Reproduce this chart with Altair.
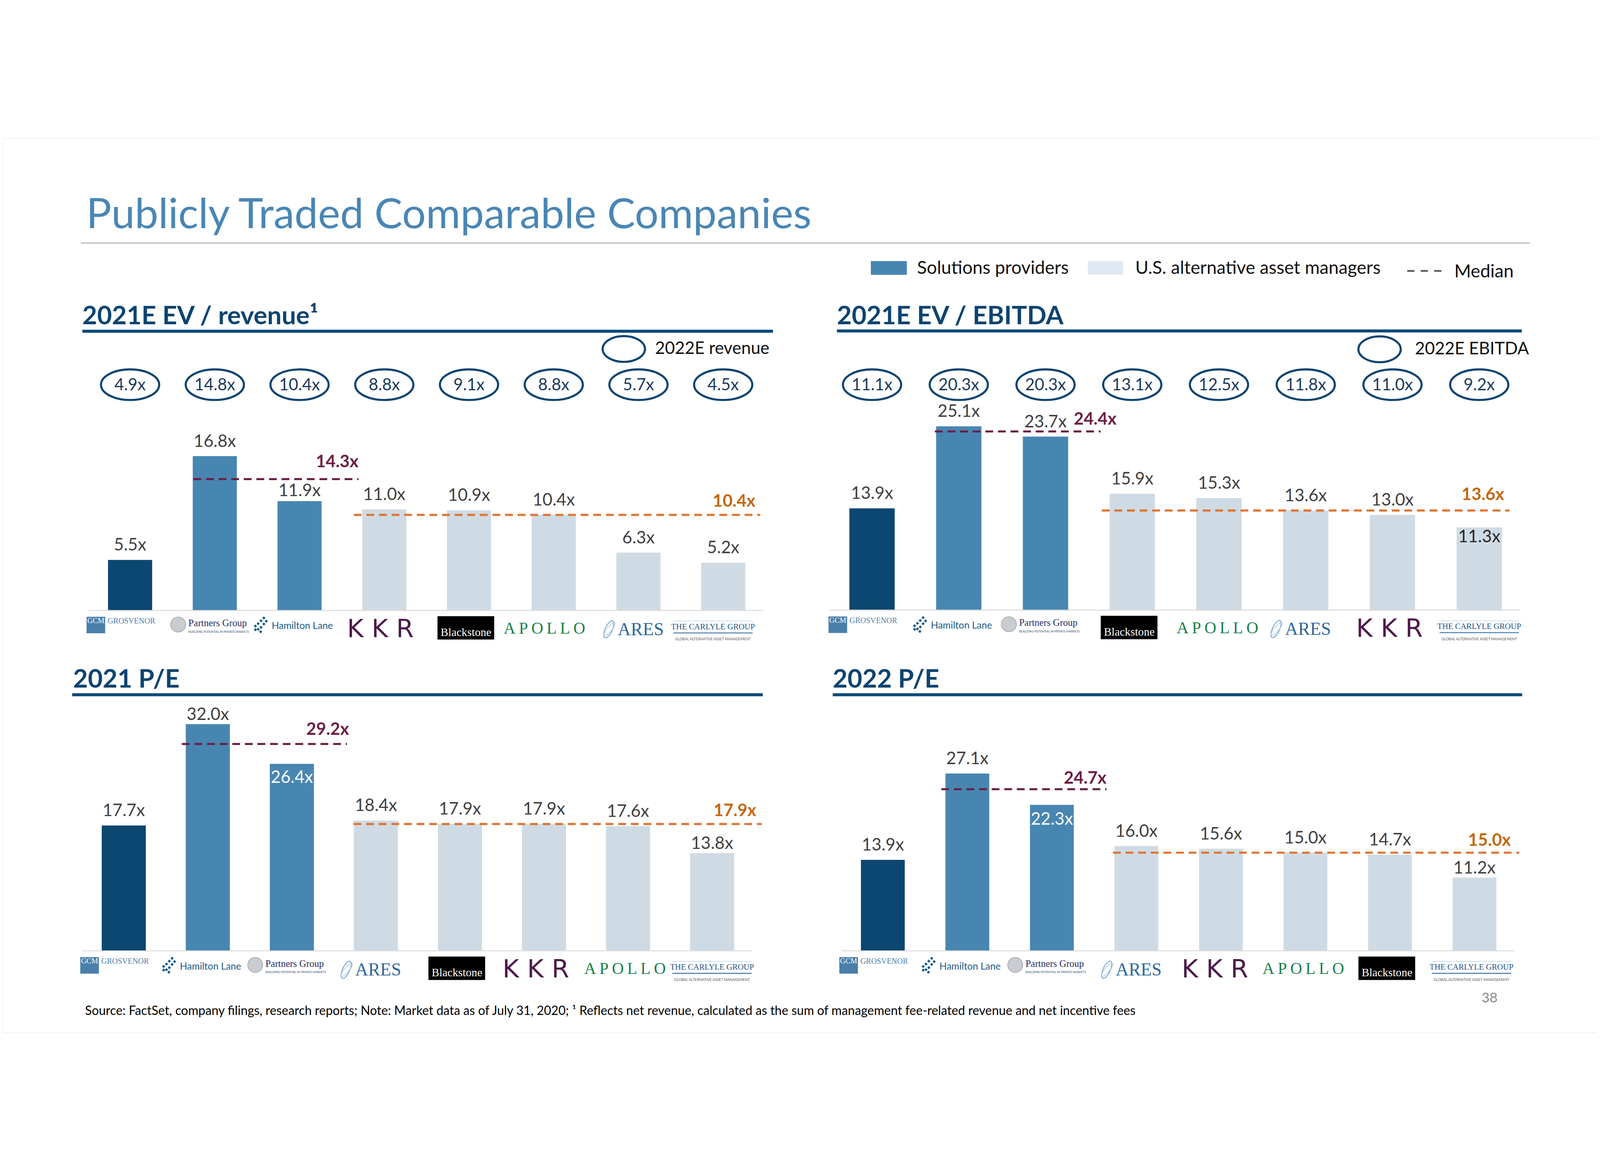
import altair as alt
import pandas as pd

# ---------------- data ----------------
REV_COMPANIES = ["GCM Grosvenor", "Partners Group", "Hamilton Lane", "KKR",
                 "Blackstone", "Apollo", "Ares", "Carlyle"]
REV_2021E = [5.5, 16.8, 11.9, 11.0, 10.9, 10.4, 6.3, 5.2]
REV_2022E = [4.9, 14.8, 10.4, 8.8, 9.1, 8.8, 5.7, 4.5]
REV_MEDIANS = [14.3, 10.4]

EBITDA_COMPANIES = ["GCM Grosvenor", "Hamilton Lane", "Partners Group", "Blackstone",
                    "Apollo", "Ares", "KKR", "Carlyle"]
EBITDA_2021E = [13.9, 25.1, 23.7, 15.9, 15.3, 13.6, 13.0, 11.3]
EBITDA_2022E = [11.1, 20.3, 20.3, 13.1, 12.5, 11.8, 11.0, 9.2]
EBITDA_MEDIANS = [24.4, 13.6]

PE21_COMPANIES = ["GCM Grosvenor", "Hamilton Lane", "Partners Group", "Ares",
                  "Blackstone", "KKR", "Apollo", "Carlyle"]
PE21 = [17.7, 32.0, 26.4, 18.4, 17.9, 17.9, 17.6, 13.8]
PE21_MEDIANS = [29.2, 17.9]

PE22_COMPANIES = ["GCM Grosvenor", "Hamilton Lane", "Partners Group", "Ares",
                  "KKR", "Apollo", "Blackstone", "Carlyle"]
PE22 = [13.9, 27.1, 22.3, 16.0, 15.6, 15.0, 14.7, 11.2]
PE22_MEDIANS = [24.7, 15.0]

SEGMENTS = ["GCM Grosvenor", "Solutions providers", "U.S. alternative asset managers"]
SEGMENT_OF = {
    "GCM Grosvenor": "GCM Grosvenor",
    "Partners Group": "Solutions providers",
    "Hamilton Lane": "Solutions providers",
    "KKR": "U.S. alternative asset managers",
    "Blackstone": "U.S. alternative asset managers",
    "Apollo": "U.S. alternative asset managers",
    "Ares": "U.S. alternative asset managers",
    "Carlyle": "U.S. alternative asset managers",
}

PANELS = [
    ("2021E EV / revenue¹", REV_COMPANIES, REV_2021E, REV_2022E, "2022E revenue", REV_MEDIANS),
    ("2021E EV / EBITDA", EBITDA_COMPANIES, EBITDA_2021E, EBITDA_2022E, "2022E EBITDA", EBITDA_MEDIANS),
    ("2021 P/E", PE21_COMPANIES, PE21, None, None, PE21_MEDIANS),
    ("2022 P/E", PE22_COMPANIES, PE22, None, None, PE22_MEDIANS),
]

MAIN_TITLE = "Publicly Traded Comparable Companies"
SOURCE = ("Source: FactSet, company filings, research reports; Note: Market data as of July 31, 2020; "
          "¹ Reflects net revenue, calculated as the sum of management fee-related revenue and net incentive fees")
PAGE = "38"

# ---------------- styles / layout ----------------
FONT = "Lato"
SERIF = "Liberation Serif"
NAVY = "#0d4470"
SEG_COLORS = ["#0b4770", "#4886b2", "#cfdbe4"]
LABEL_GRAY = "#404040"
MAROON_LINE, MAROON_TXT = "#6b2045", "#6b1f45"
ORANGE_LINE, ORANGE_TXT = "#e07533", "#c4680f"


def P(v):
    return v - 8


LAYOUT = [
    dict(c0=431, step=282.3, bw=147, base=1582, ppu=30.6, tx=272, ty=628, ul=(272, 2573, 652),
         leg=(2076, 711, 2180), ell_y=830,
         med=[(2, 123, 123, -40), (-28, 50, 34, -28)], inside={}, near={"Hamilton Lane": -17},
         shift={"Carlyle": -26, "Apollo": -26, "KKR": 5}),
    dict(c0=2903, step=289.0, bw=151, base=1581, ppu=24.4, tx=2786, ty=628, ul=(2786, 5068, 651),
         leg=(4594, 712, 4712), ell_y=830,
         med=[(-4, 108, 161, -23), (-26, 25, 8, -35)], inside={"Carlyle": (50, "#262626")}, near={},
         shift={"Carlyle": 8, "Apollo": 0, "KKR": 8}),
    dict(c0=410, step=280.0, bw=147, base=2716, ppu=23.6, tx=241, ty=1839, ul=(238, 2539, 1863),
         leg=None, ell_y=None,
         med=[(-13, 110, 117, -31), (-1, 92, 74, -26)], inside={"Partners Group": (64, "white")},
         near={"Hamilton Lane": -14, "Carlyle": -14},
         shift={"Carlyle": 8, "Apollo": -5, "KKR": -9}),
    dict(c0=2939, step=281.6, bw=146, base=2716, ppu=21.8, tx=2772, ty=1839, ul=(2772, 5069, 1863),
         leg=None, ell_y=None,
         med=[(-14, 109, 109, -18), (-5, 76, 48, -23)], inside={"Partners Group": (66, "white")},
         near={"Carlyle": -14},
         shift={"Carlyle": -2, "Apollo": -2, "KKR": -2}),
]


def ellipse_path(b):
    k = 0.5523
    return (f"M-1,0C-1,{-b*k:.4f},{-k:.4f},{-b:.4f},0,{-b:.4f}"
            f"C{k:.4f},{-b:.4f},1,{-b*k:.4f},1,0"
            f"C1,{b*k:.4f},{k:.4f},{b:.4f},0,{b:.4f}"
            f"C{-k:.4f},{b:.4f},-1,{b*k:.4f},-1,0Z")


def diamonds_path():
    centers = [(0.45, -0.85), (0.75, -0.45), (0.1, -0.5), (0.45, -0.1), (-0.25, -0.15),
               (0.1, 0.3), (-0.6, 0.15), (-0.25, 0.55), (0.05, 0.85), (-0.6, 0.6)]
    r = 0.2
    return "".join(f"M{cx-r:.2f},{cy:.2f}L{cx:.2f},{cy-r:.2f}L{cx+r:.2f},{cy:.2f}L{cx:.2f},{cy+r:.2f}Z"
                   for cx, cy in centers)


ONE = pd.DataFrame({"k": [0]})


def deco_text(t, x, y, size, color, align="left", weight="normal", baseline="alphabetic", font=FONT):
    return alt.Chart(ONE).mark_text(align=align, baseline=baseline, fontSize=size, font=font,
                                    fontWeight=weight, color=color).encode(
        x=alt.value(P(x)), y=alt.value(P(y)), text=alt.value(t))


def deco_rule(x0, x1, y, color, w, dash=None):
    kw = dict(color=color, strokeWidth=w)
    if dash:
        kw["strokeDash"] = dash
    return alt.Chart(ONE).mark_rule(**kw).encode(
        x=alt.value(P(x0)), x2=alt.value(P(x1)), y=alt.value(P(y)))


def deco_rect(x0, x1, y0, y1, color):
    return alt.Chart(ONE).mark_rect(color=color).encode(
        x=alt.value(P(x0)), x2=alt.value(P(x1)), y=alt.value(P(y0)), y2=alt.value(P(y1)))


def logo_layers(company, X, base, s=0):
    C = alt.Chart(pd.DataFrame({"company": [company]}))

    def txt(t, dx, dy, size, color, font=FONT, weight="normal", align="center"):
        return C.mark_text(dx=dx + s, align=align, baseline="middle", fontSize=size, font=font,
                           fontWeight=weight, color=color).encode(
            x=X(), y=alt.value(P(base + dy)), text=alt.value(t))

    def box(xa, xb, ya, yb, color):
        return C.mark_rect(color=color, xOffset=xa + s, x2Offset=xb + s).encode(
            x=X(bp=0.5), x2=alt.X2("company:N", bandPosition=0.5),
            y=alt.value(P(base + ya)), y2=alt.value(P(base + yb)))

    def hline(xa, xb, yy, color, w):
        return C.mark_rule(color=color, strokeWidth=w, xOffset=xa + s, x2Offset=xb + s).encode(
            x=X(bp=0.5), x2=alt.X2("company:N", bandPosition=0.5), y=alt.value(P(base + yy)))

    def sym(dx, dy, shape, size, fill=None, stroke=None, sw=0, angle=None):
        kw = dict(shape=shape, size=size, xOffset=dx + s, opacity=1)
        if fill:
            kw.update(filled=True, fill=fill)
        else:
            kw.update(filled=False, fill="transparent")
        if stroke:
            kw.update(stroke=stroke, strokeWidth=sw)
        else:
            kw.update(strokeWidth=0)
        if angle:
            kw["angle"] = angle
        return C.mark_point(**kw).encode(x=X(), y=alt.value(P(base + dy)))

    if company == "GCM Grosvenor":
        return [box(-145, -83, 21, 76, "#4a7fab"),
                txt("GCM", -114, 34, 25, "white", SERIF),
                txt("GROSVENOR", -75, 35, 26, "#4a7fab", SERIF, align="left")]
    if company == "Partners Group":
        return [sym(-122, 47, "circle", 2500, fill="#c9ccd0", stroke="#9aa0a6", sw=2),
                txt("Partners Group", -88, 43, 32, "#1f2a5e", SERIF, align="left"),
                txt("REALIZING POTENTIAL IN PRIVATE MARKETS", -88, 72, 9.5, "#6b7d95", FONT, "bold", "left")]
    if company == "Hamilton Lane":
        return [sym(-131, 48, diamonds_path(), 54 * 54, fill="#1a5a8a"),
                txt("Hamilton Lane", -93, 52, 32, "#1a5a8a", FONT, align="left")]
    if company == "KKR":
        return [txt("K\u00a0K\u00a0R", -18, 64, 84, "#4e1a4a", "DejaVu Sans")]
    if company == "Blackstone":
        return [box(-105, 84, 19, 97, "#000000"),
                txt("Blackstone", -10, 74, 38, "white", SERIF)]
    if company == "Apollo":
        return [txt("A\u2009P\u2009O\u2009L\u2009L\u2009O", -5, 60, 55, "#1b8146", SERIF)]
    if company == "Ares":
        return [sym(-99, 63, ellipse_path(0.38), 62 * 62, stroke="#7aa7d0", sw=3, angle=115),
                sym(-97, 63, ellipse_path(0.28), 56 * 56, stroke="#a3c4e0", sw=2, angle=130),
                txt("ARES", -69, 64, 60, "#2c679d", SERIF, align="left")]
    if company == "Carlyle":
        return [hline(-140, 124, 35, "#bcd6e8", 2),
                txt("THE CARLYLE GROUP", -8, 55, 27, "#1e4f80", SERIF),
                hline(-140, 124, 75, "#3a73a8", 3),
                txt("GLOBAL ALTERNATIVE ASSET MANAGEMENT", -8, 96, 12, "#555555", FONT)]
    return []


color_enc = alt.Color("segment:N", scale=alt.Scale(domain=SEGMENTS, range=SEG_COLORS), legend=None)

ELL_ROW = ellipse_path(102 / 194)
ELL_LEG = ellipse_path(86 / 141)

top_layers = []
for (title, comps, vals, fwd, fwd_title, meds), st in zip(PANELS, LAYOUT):
    step = st["step"]
    x0 = st["c0"] - step / 2
    x1 = x0 + step * len(comps)
    pad = 1 - st["bw"] / step
    xs = alt.Scale(domain=comps, range=[P(x0), P(x1)], paddingInner=pad, paddingOuter=pad / 2)
    yb = P(st["base"])
    ys = alt.Scale(domain=[0, 10], range=[yb, yb - 10 * st["ppu"]])

    def X(field="company", bp=None, xs=xs):
        if bp is None:
            return alt.X(f"{field}:N", scale=xs, axis=None)
        return alt.X(f"{field}:N", scale=xs, axis=None, bandPosition=bp)

    Y = alt.Y("value:Q", scale=ys, axis=None)

    df = pd.DataFrame({
        "company": comps,
        "value": vals,
        "segment": [SEGMENT_OF[c] for c in comps],
        "label": [f"{v:.1f}x" for v in vals],
    })
    layers = []
    layers.append(alt.Chart(df).mark_bar().encode(x=X(), y=Y, color=color_enc))

    special = list(st["inside"].keys()) + list(st["near"].keys())
    outside = df[~df["company"].isin(special)]
    layers.append(alt.Chart(outside).mark_text(baseline="alphabetic", dy=-31, fontSize=57, font=FONT,
                                               color=LABEL_GRAY).encode(x=X(), y=Y, text="label:N"))
    for comp, dy in st["near"].items():
        layers.append(alt.Chart(df[df["company"] == comp]).mark_text(
            baseline="alphabetic", dy=dy, fontSize=57, font=FONT, color=LABEL_GRAY).encode(
            x=X(), y=Y, text="label:N"))
    for comp, (dy, col) in st["inside"].items():
        layers.append(alt.Chart(df[df["company"] == comp]).mark_text(
            baseline="alphabetic", dy=dy, fontSize=57, font=FONT, color=col).encode(
            x=X(), y=Y, text="label:N"))

    # baseline
    base_df = pd.DataFrame({"first": [comps[0]], "last": [comps[-1]], "value": [0]})
    layers.append(alt.Chart(base_df).mark_rule(color="#d9d9d9", strokeWidth=3, xOffset=-65, x2Offset=60).encode(
        x=X("first", 0), x2=alt.X2("last:N", bandPosition=1), y=Y))

    # medians
    sol = [c for c in comps if SEGMENT_OF[c] == "Solutions providers"]
    alts = [c for c in comps if SEGMENT_OF[c] == "U.S. alternative asset managers"]
    med_df = pd.DataFrame({
        "segment": ["Solutions providers", "U.S. alternative asset managers"],
        "value": meds,
        "first": [sol[0], alts[0]],
        "last": [sol[-1], alts[-1]],
        "label": [f"{m:.1f}x" for m in meds],
    })
    for k, (lc, tc) in enumerate([(MAROON_LINE, MAROON_TXT), (ORANGE_LINE, ORANGE_TXT)]):
        o1, o2, lx, ldy = st["med"][k]
        row = med_df.iloc[[k]]
        layers.append(alt.Chart(row).mark_rule(color=lc, strokeWidth=7, strokeDash=[26, 16],
                                               xOffset=o1, x2Offset=o2).encode(
            x=X("first", 0), x2=alt.X2("last:N", bandPosition=1), y=Y))
        layers.append(alt.Chart(row).mark_text(align="right", baseline="alphabetic", dx=lx, dy=ldy,
                                               fontSize=57, font=FONT, fontWeight="bold", color=tc).encode(
            x=X("last", 1), y=Y, text="label:N"))

    # forward multiples in ellipses
    if fwd is not None:
        fdf = pd.DataFrame({"company": comps, "fwd": [f"{v:.1f}x" for v in fwd]})
        layers.append(alt.Chart(fdf).mark_point(shape=ELL_ROW, size=194 * 194, filled=True, fill="white",
                                                stroke=NAVY, strokeWidth=7, opacity=1).encode(
            x=X(), y=alt.value(P(st["ell_y"]))))
        layers.append(alt.Chart(fdf).mark_text(baseline="middle", fontSize=55, font=FONT, color="#1b3a5e").encode(
            x=X(), y=alt.value(P(st["ell_y"] + 2)), text="fwd:N"))

    # logos
    for c in comps:
        layers.extend(logo_layers(c, X, st["base"], st["shift"].get(c, 0)))

    top_layers.append(alt.layer(*layers))

    # panel title, underline, ellipse legend
    top_layers.append(deco_text(title, st["tx"], st["ty"], 85, NAVY, weight="bold"))
    ux0, ux1, uy = st["ul"]
    top_layers.append(deco_rule(ux0, ux1, uy, "#0b4a78", 10))
    if st["leg"] is not None:
        lx, ly, tx = st["leg"]
        top_layers.append(alt.Chart(ONE).mark_point(shape=ELL_LEG, size=141 * 141, filled=True, fill="white",
                                                    stroke=NAVY, strokeWidth=7, opacity=1).encode(
            x=alt.value(P(lx)), y=alt.value(P(ly))))
        top_layers.append(deco_text(fwd_title, tx, ly, 57, "#111111", align="left", baseline="middle"))

# header
top_layers.append(deco_text(MAIN_TITLE, 285, 309, 140, "#4a86b4"))
top_layers.append(deco_rule(267, 5094, 358, "#a6a6a6", 3))

# legend
top_layers.append(deco_rect(2899, 3019, 418, 464, SEG_COLORS[1]))
top_layers.append(deco_text(SEGMENTS[1], 3053, 443, 60, "#111111", baseline="middle"))
top_layers.append(deco_rect(3622, 3740, 418, 464, "#dfe9f4"))
top_layers.append(deco_text(SEGMENTS[2], 3780, 443, 60, "#111111", baseline="middle"))
top_layers.append(deco_rule(4686, 4800, 451, "#595959", 6, dash=[24, 21]))
top_layers.append(deco_text("Median", 4843, 454, 60, "#111111", baseline="middle"))

# footer
top_layers.append(deco_text(SOURCE, 281, 2930, 41.5, "#000000"))
top_layers.append(deco_text(PAGE, 4987, 2888, 46, "#8c8c8c", align="right"))

chart = alt.layer(*top_layers).resolve_scale(x="independent", y="independent").properties(
    width=5310, height=2980, padding=0, autosize=alt.AutoSizeParams(type="none")
).configure_view(stroke=None).configure(background="white")

chart.save("out.html", embed_options={"renderer": "svg", "actions": False})
